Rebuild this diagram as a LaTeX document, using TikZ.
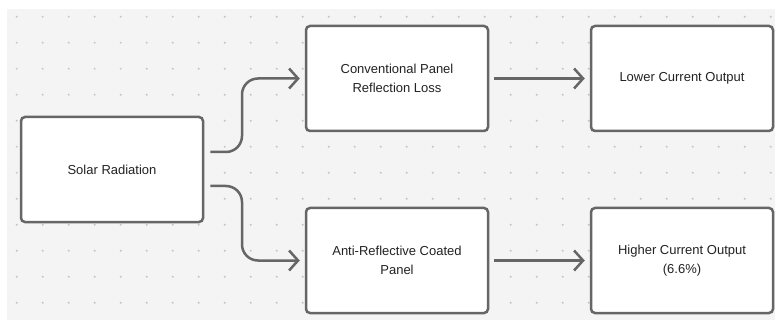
\documentclass[tikz,border=0pt]{standalone}
\usepackage{fontspec}
\setmainfont{Liberation Sans}
\usetikzlibrary{arrows.meta,calc}
\definecolor{bggrey}{HTML}{F4F4F4}
\definecolor{dotgrey}{HTML}{C6C6C6}
\definecolor{linegrey}{HTML}{666666}
\definecolor{textgrey}{HTML}{222222}
\tikzset{
  box/.style={draw=linegrey, line width=2.5pt, fill=white, rounded corners=4pt,
    minimum width=182pt, minimum height=105pt, align=center, text=textgrey,
    font=\fontsize{13pt}{18.7pt}\selectfont, inner sep=0pt},
  conn/.style={draw=linegrey, line width=2.5pt, rounded corners=16pt,
    -{Straight Barb[length=9pt,width=20pt,line width=2.5pt]}, shorten >=5pt}
}
\begin{document}
\begin{tikzpicture}[x=1pt,y=-1pt]
\useasboundingbox (0,0) rectangle (775,320);
\fill[white] (0,0) rectangle (775,320);
\fill[bggrey] (7,9) rectangle (775,320);
\foreach \i in {0,...,29}{
  \foreach \j in {0,...,11}{
    \fill[dotgrey] (16.7+26*\i,16.7+26*\j) circle (1.1pt);
  }
}
\node[box] (s) at (112,169.5) {Solar Radiation};
\node[box] (c) at (397,78.5) {Conventional Panel\\Reflection Loss};
\node[box] (l) at (682,78.5) {Lower Current Output};
\node[box] (a) at (397,260.5) {Anti-Reflective Coated\\Panel};
\node[box] (h) at (682,260.5) {Higher Current Output\\(6.6\%)};
\draw[conn] ($(s.east)+(6,-17.5)$) -| (242,120) |- (c.west);
\draw[conn] ($(s.east)+(6,16.5)$) -| (242,220) |- (a.west);
\draw[conn] ($(c.east)+(5,0)$) -- (l.west);
\draw[conn] ($(a.east)+(5,0)$) -- (h.west);
\end{tikzpicture}
\end{document}
